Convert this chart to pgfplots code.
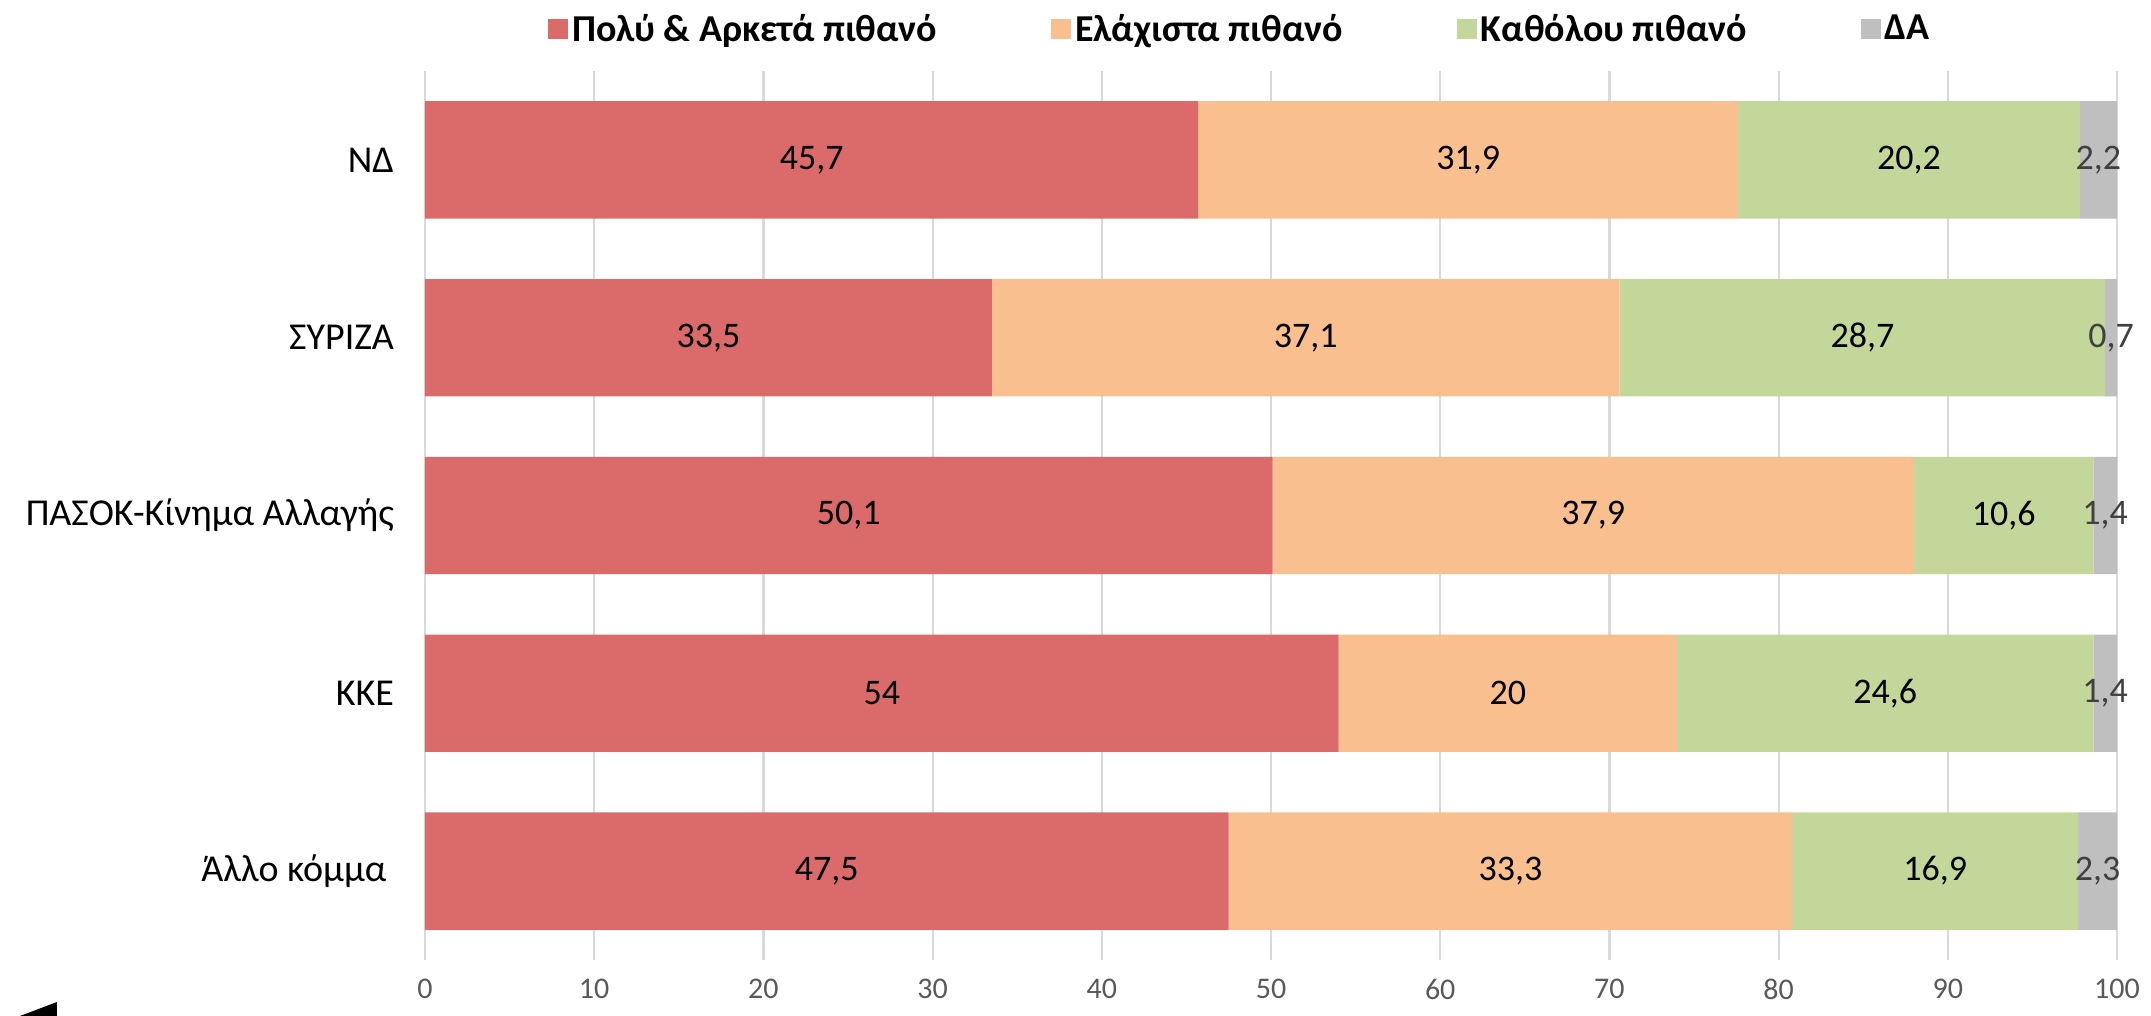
\documentclass[border=0pt]{standalone}
\usepackage{pgfplots}
\pgfplotsset{compat=1.18}
\usepackage{fontspec}
\setmainfont{Carlito}
\definecolor{cRed}{RGB}{219,107,106}
\definecolor{cOrange}{RGB}{250,191,143}
\definecolor{cGreen}{RGB}{196,215,155}
\definecolor{cGray}{RGB}{191,191,191}
\definecolor{gridc}{RGB}{217,217,217}
\definecolor{tickc}{RGB}{89,89,89}
\definecolor{dalab}{RGB}{64,64,64}
\begin{document}
\begin{tikzpicture}
\path[use as bounding box] (-212.5pt,-28pt) rectangle (863pt,480pt);
\fill[black] (-202.5pt,-28pt) -- (-184pt,-21pt) -- (-184pt,-28pt) -- cycle;
\begin{axis}[
  at={(0pt,0pt)}, anchor=south west,
  scale only axis, width=846pt, height=444.5pt,
  xbar stacked, bar width=0.66,
  xmin=0, xmax=100, ymin=-0.5, ymax=4.5, y dir=reverse,
  xtick={0,10,...,100},
  ytick={0,1,2,3,4},
  yticklabels={ΝΔ,ΣΥΡΙΖΑ,ΠΑΣΟΚ-Κίνημα Αλλαγής,ΚΚΕ,Άλλο κόμμα\hspace*{0.2em}},
  axis line style={draw=none},
  major tick length=0pt,
  xmajorgrids, grid style={gridc, line width=1.1pt},
  /pgf/number format/assume math mode=true,
  xticklabel style={font=\fontsize{15}{18}\selectfont, text=tickc, yshift=-6pt},
  yticklabel style={font=\fontsize{19}{23}\selectfont, text=black, xshift=-12pt},
  visualization depends on={rawx \as \rawx},
  nodes near coords={\pgfmathprintnumber[fixed,precision=1,use comma]{\rawx}},
  every node near coord/.append style={font=\fontsize{18}{22}\selectfont, text=black, anchor=center},
  legend image code/.code={\fill[#1] (-5pt,-5pt) rectangle (5pt,5pt);},
  legend columns=4,
  legend style={draw=none, fill=none, at={(0.5,1)}, anchor=center, yshift=21pt, xshift=-15pt,
    font=\bfseries\fontsize{19}{23}\selectfont,
    /tikz/every odd column/.append style={column sep=0pt},
    /tikz/every even column/.append style={column sep=55pt}},
]
\addplot[fill=cRed, draw=none] coordinates {(45.7,0) (33.5,1) (50.1,2) (54,3) (47.5,4)};
\addplot[fill=cOrange, draw=none] coordinates {(31.9,0) (37.1,1) (37.9,2) (20,3) (33.3,4)};
\addplot[fill=cGreen, draw=none] coordinates {(20.2,0) (28.7,1) (10.6,2) (24.6,3) (16.9,4)};
\addplot[fill=cGray, draw=none, every node near coord/.append style={text=dalab}] coordinates {(2.2,0) (0.7,1) (1.4,2) (1.4,3) (2.3,4)};
\legend{Πολύ \& Αρκετά πιθανό, Ελάχιστα πιθανό, Καθόλου πιθανό, ΔΑ}
\end{axis}
\end{tikzpicture}
\end{document}
